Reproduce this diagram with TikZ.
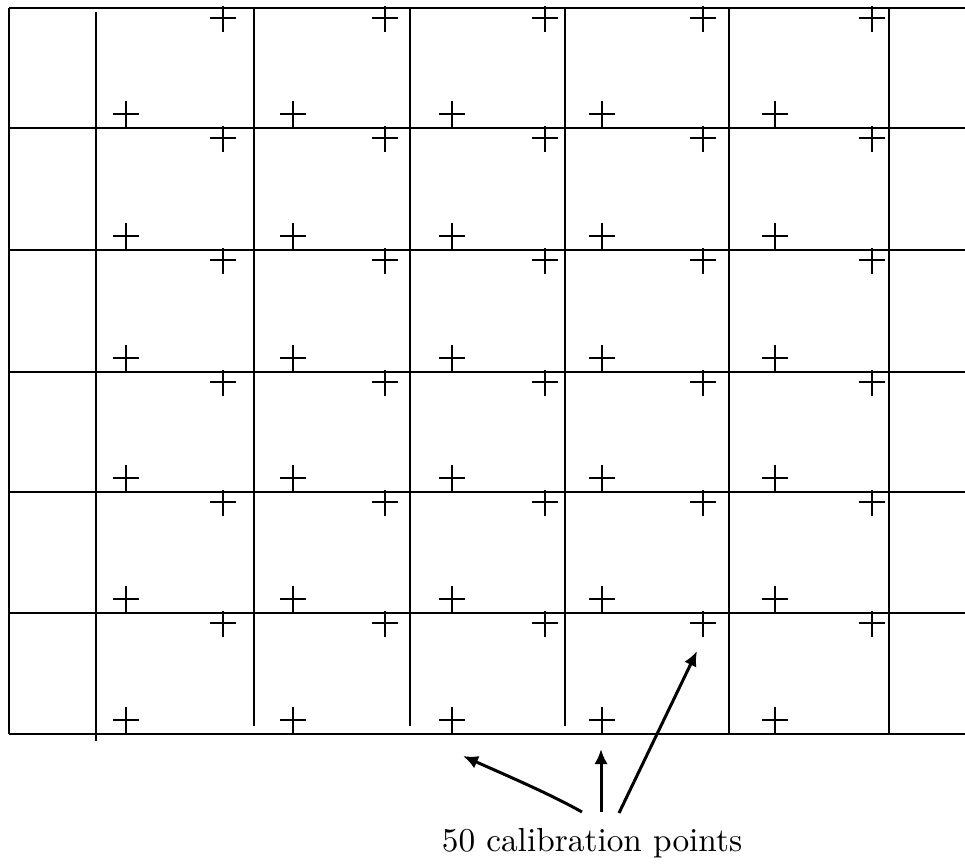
\documentclass[tikz,border=0pt]{standalone}
\usetikzlibrary{positioning,arrows.meta}
\begin{document}
\begin{tikzpicture}[x=0.3pt,y=-0.3pt]
    \useasboundingbox (0,0) rectangle (965,866);
    \draw [line width=0.7pt] (9,8) -- (965,8);% top edge
    \foreach \y in {128,250,372,492,613,734}{% horizontal grid lines
      \draw [line width=0.7pt] (9,\y) -- (965,\y);}
    \draw [line width=0.7pt] (9,8) -- (9,734);% left edge
    \draw [line width=0.7pt] (96,12) -- (96,741);
    \foreach \x in {254,410,565}{% short vertical lines
      \draw [line width=0.7pt] (\x,8) -- (\x,726);}
    \foreach \x in {729,889}{%
      \draw [line width=0.7pt] (\x,8) -- (\x,734);}
    \foreach \t/\b in {8/128,128/250,250/372,372/492,492/613,613/734}{% one row of crosses
      \foreach \x in {126,293,452,602,775}{% lower left crosses
        \draw [line width=0.6pt] (\x,\b-27) -- (\x,\b) (\x-13,\b-14) -- (\x+13,\b-14);}
      \foreach \x in {223,385,545,703,872}{% upper right crosses
        \draw [line width=0.6pt] (\x,\t-2) -- (\x,\t+24) (\x-13,\t+10) -- (\x+13,\t+10);}}
    \node (lbl) at (592,843) {50 calibration points};
    \coordinate (t1) at (582,812);
    \coordinate (t2) at (601,812);
    \coordinate (t3) at (619,813);
    \coordinate (h1) at (463,756);
    \coordinate (h2) at (601,749);
    \coordinate (h3) at (697,651);
    \draw [line width=0.9pt,-{Latex[length=4.5pt,width=4pt]}] (t1) .. controls (550,794) and (510,777) .. (h1);
    \draw [line width=0.9pt,-{Latex[length=4.5pt,width=4pt]}] (t2) -- (h2);
    \draw [line width=0.9pt,-{Latex[length=4.5pt,width=4pt]}] (t3) -- (h3);
\end{tikzpicture}
\end{document}
